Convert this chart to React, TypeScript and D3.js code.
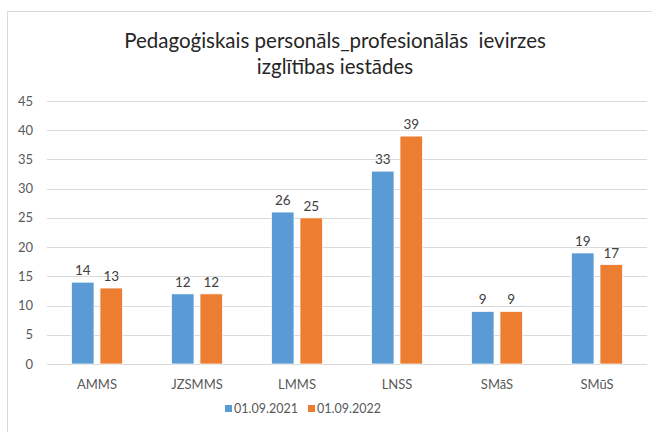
import React, { useEffect, useRef } from 'react';
import * as d3 from 'd3';

const categories = ['AMMS', 'JZSMMS', 'LMMS', 'LNSS', 'SMāS', 'SMūS'];
const seriesNames = ['01.09.2021', '01.09.2022'];
const values2021 = [14, 12, 26, 33, 9, 19];
const values2022 = [13, 12, 25, 39, 9, 17];
const yTicks = [0, 5, 10, 15, 20, 25, 30, 35, 40, 45];
const titleLines = ['Pedagoģiskais personāls_profesionālās  ievirzes', 'izglītības iestādes'];

const colors = ['#5B9BD5', '#ED7D31'];
const font = 'Lato, Calibri, sans-serif';

const App = () => {
  const svgRef = useRef<SVGSVGElement>(null);

  useEffect(() => {
    const svg = d3.select(svgRef.current);
    svg.selectAll('*').remove();

    const width = 652;
    const height = 432;
    const margin = { top: 101, right: 5, bottom: 68, left: 47 };

    // chart frame
    svg.append('rect')
      .attr('x', 7.5).attr('y', 11.5)
      .attr('width', width).attr('height', height)
      .attr('fill', '#fff')
      .attr('stroke', '#d9d9d9');

    const x = d3.scaleBand()
      .domain(categories)
      .range([margin.left, width - margin.right]);

    const x1 = d3.scaleBand()
      .domain(seriesNames)
      .range([0, x.bandwidth()])
      .paddingInner(0.21)
      .paddingOuter(0.86);

    const y = d3.scaleLinear()
      .domain([0, 45])
      .range([height - margin.bottom, margin.top]);

    // gridlines
    svg.append('g')
      .selectAll('line')
      .data(yTicks)
      .join('line')
      .attr('x1', margin.left)
      .attr('x2', width - margin.right)
      .attr('y1', d => Math.round(y(d)) + 0.5)
      .attr('y2', d => Math.round(y(d)) + 0.5)
      .attr('stroke', '#d9d9d9');

    // y tick labels
    svg.append('g')
      .selectAll('text')
      .data(yTicks)
      .join('text')
      .attr('x', 33)
      .attr('y', d => y(d) + 4.5)
      .attr('text-anchor', 'end')
      .attr('fill', '#595959')
      .style('font-family', font)
      .style('font-size', '13px')
      .text(d => d);

    // x labels
    svg.append('g')
      .selectAll('text')
      .data(categories)
      .join('text')
      .attr('x', d => (x(d) as number) + x.bandwidth() / 2)
      .attr('y', 389)
      .attr('text-anchor', 'middle')
      .attr('fill', '#595959')
      .style('font-family', font)
      .style('font-size', '13px')
      .text(d => d);

    const rows = categories.map((c, i) => ({ c, vals: [values2021[i], values2022[i]] }));

    const groups = svg.append('g')
      .selectAll('g')
      .data(rows)
      .join('g')
      .attr('transform', d => `translate(${x(d.c)},0)`);

    groups.selectAll('rect')
      .data(d => d.vals.map((v, k) => ({ v, k })))
      .join('rect')
      .attr('x', d => x1(seriesNames[d.k]) as number)
      .attr('y', d => y(d.v))
      .attr('width', x1.bandwidth())
      .attr('height', d => y(0) - y(d.v))
      .attr('fill', d => colors[d.k])
      .attr('stroke', '#fff')
      .attr('stroke-width', 0.75);

    groups.selectAll('text')
      .data(d => d.vals.map((v, k) => ({ v, k })))
      .join('text')
      .attr('x', d => (x1(seriesNames[d.k]) as number) + x1.bandwidth() / 2)
      .attr('y', d => y(d.v) - 7)
      .attr('text-anchor', 'middle')
      .attr('fill', '#404040')
      .style('font-family', font)
      .style('font-size', '13.5px')
      .text(d => d.v);

    // title
    svg.append('text')
      .attr('text-anchor', 'middle')
      .attr('fill', '#262626')
      .style('font-family', font)
      .style('font-size', '20.5px')
      .selectAll('tspan')
      .data(titleLines)
      .join('tspan')
      .attr('x', 335)
      .attr('y', (d, i) => 48 + i * 26)
      .style('white-space', 'pre')
      .text(d => d);

    // legend
    const legend = svg.append('g').attr('transform', 'translate(225,413)');
    const lx = [0, 83];
    seriesNames.forEach((s, i) => {
      legend.append('rect')
        .attr('x', lx[i]).attr('y', -8)
        .attr('width', 7).attr('height', 7)
        .attr('fill', colors[i]);
      legend.append('text')
        .attr('x', lx[i] + 9).attr('y', 0)
        .attr('fill', '#595959')
        .style('font-family', font)
        .style('font-size', '12.5px')
        .text(s);
    });
  }, []);

  return (
    <svg ref={svgRef} width="652" height="432"
      style={{ position: 'absolute', left: 0, top: 0 }} />
  );
};

export default App;
